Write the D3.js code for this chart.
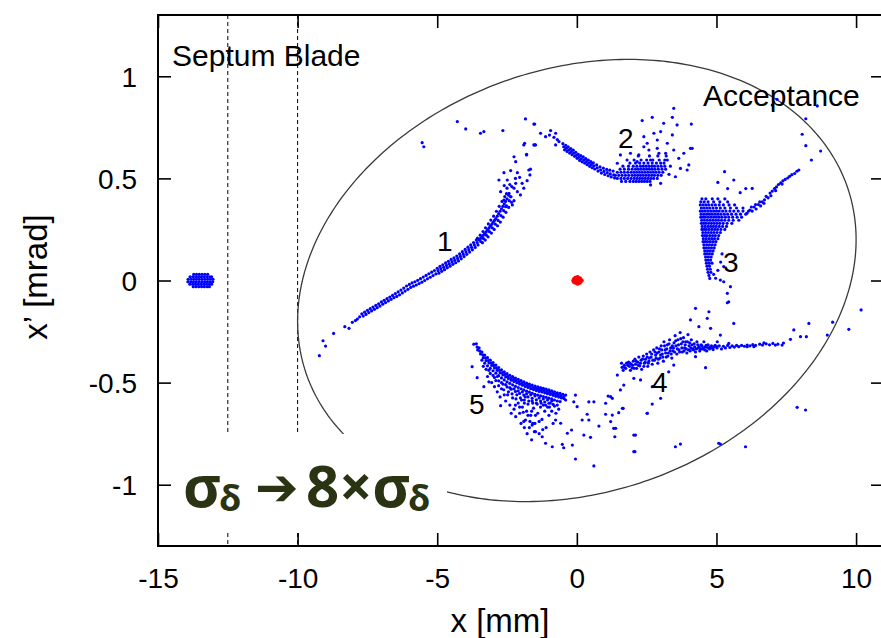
<!DOCTYPE html>
<html>
<head>
<meta charset="utf-8">
<script src="https://cdn.jsdelivr.net/npm/d3@7"></script>
<style>
  body { margin: 0; background: #fff; }
  text { font-family: "Liberation Sans", Arial, Helvetica, sans-serif; }
</style>
</head>
<body>
<svg id="chart" width="881" height="638"></svg>
<script>
// ---- axes ----
const xDomain = [-15, 11];
const yDomain = [-1.3, 1.3];
const xTicks = [-15, -10, -5, 0, 5, 10];
const yTicks = [-1, -0.5, 0, 0.5, 1];
const septumLines = [-12.5, -10];          // septum blade edges, mm

// ---- acceptance ellipse (Twiss form) ----
const acceptanceEmittance = 10.64;          // mm·mrad
const acceptanceBeta = 9.40;
const acceptanceAlpha = -0.188;

// ---- particles: [x mm, x' mrad] ----
const coreBeam = [[-0.12,0.0],[-0.09,0.008],[-0.05,0.012],[-0.05,-0.010],[0.03,0.016],[0.03,0.0],[0.03,-0.015],
  [0.07,0.006],[0.07,-0.008],[0.11,0.010],[0.11,-0.010],[0.17,0.0],[-0.10,-0.006]];

// extracted bunch beyond the septum, rows of [x', [x...]]
const septumBeamRows = [
  [0.030, [-13.72,-13.62,-13.52,-13.42,-13.32,-13.22]],
  [0.018, [-13.85,-13.75,-13.65,-13.55,-13.45,-13.35,-13.25,-13.15,-13.08]],
  [0.006, [-13.92,-13.82,-13.72,-13.62,-13.52,-13.42,-13.32,-13.22,-13.12,-13.03]],
  [-0.006,[-13.93,-13.83,-13.73,-13.63,-13.53,-13.43,-13.33,-13.23,-13.13,-13.04]],
  [-0.018,[-13.86,-13.76,-13.66,-13.56,-13.46,-13.36,-13.26,-13.16,-13.08]],
  [-0.030,[-13.74,-13.64,-13.54,-13.44,-13.34,-13.24,-13.16]]
];

const island1 = [
  [-9.22,-0.368],[-9.09,-0.295],[-9.00,-0.321],[-8.71,-0.259],[-8.31,-0.226],[-8.16,-0.234],[-8.04,-0.205],[-7.93,-0.196],[-7.86,-0.189],[-7.78,-0.178],
  [-7.70,-0.163],[-7.65,-0.174],[-7.60,-0.155],[-7.55,-0.166],[-7.50,-0.146],[-7.45,-0.157],[-7.40,-0.138],[-7.35,-0.149],
  [-7.30,-0.130],[-7.25,-0.141],[-7.20,-0.122],[-7.15,-0.133],[-7.10,-0.114],[-7.05,-0.125],[-7.00,-0.105],[-6.95,-0.116],
  [-6.90,-0.097],[-6.85,-0.108],[-6.80,-0.089],[-6.75,-0.100],[-6.70,-0.081],[-6.65,-0.092],[-6.60,-0.073],[-6.55,-0.084],
  [-6.50,-0.064],[-6.45,-0.078],[-6.40,-0.056],[-6.35,-0.070],[-6.30,-0.047],[-6.25,-0.061],[-6.20,-0.037],[-6.15,-0.052],
  [-6.10,-0.027],[-6.05,-0.043],[-6.00,-0.019],[-5.95,-0.034],[-5.90,-0.012],[-5.85,-0.028],[-5.80,-0.006],[-5.75,-0.022],
  [-5.70,0.001],[-5.65,-0.015],[-5.60,0.009],[-5.55,-0.008],[-5.50,0.017],[-5.45,0.000],[-5.40,0.025],[-5.35,0.008],
  [-5.30,0.033],[-5.25,0.016],[-5.20,0.041],[-5.15,0.024],[-5.10,0.049],[-5.05,0.032],
  [-5.00,0.060],[-4.97,0.048],[-4.94,0.036],[-4.90,0.069],[-4.87,0.057],[-4.84,0.045],[-4.80,0.077],[-4.77,0.065],[-4.74,0.053],
  [-4.70,0.086],[-4.67,0.074],[-4.64,0.062],[-4.60,0.094],[-4.57,0.082],[-4.54,0.070],[-4.50,0.103],[-4.47,0.091],[-4.44,0.079],
  [-4.40,0.111],[-4.37,0.099],[-4.34,0.087],[-4.30,0.120],[-4.27,0.108],[-4.24,0.096],[-4.20,0.130],[-4.17,0.118],[-4.14,0.106],
  [-4.10,0.141],[-4.07,0.129],[-4.04,0.117],[-4.00,0.152],[-3.97,0.140],[-3.94,0.128],[-3.90,0.163],[-3.87,0.151],[-3.84,0.139],
  [-3.80,0.174],[-3.77,0.162],[-3.74,0.150],[-3.70,0.186],[-3.67,0.174],[-3.64,0.162],[-3.60,0.198],[-3.57,0.186],[-3.54,0.174],
  [-3.56,0.207],[-3.50,0.199],[-3.44,0.191],[-3.38,0.185],[-3.46,0.222],[-3.40,0.213],[-3.34,0.205],[-3.28,0.198],
  [-3.36,0.240],[-3.30,0.230],[-3.24,0.222],[-3.18,0.214],[-3.27,0.258],[-3.20,0.247],[-3.13,0.239],[-3.06,0.232],
  [-3.17,0.277],[-3.10,0.266],[-3.03,0.258],[-2.96,0.250],[-3.08,0.296],[-3.00,0.285],[-2.92,0.276],[-2.84,0.268],
  [-2.98,0.315],[-2.90,0.303],[-2.82,0.294],[-2.74,0.286],[-2.88,0.339],[-2.80,0.327],[-2.72,0.318],[-2.64,0.310],
  [-2.78,0.363],[-2.70,0.351],[-2.62,0.342],[-2.54,0.334],[-2.68,0.387],[-2.60,0.375],[-2.52,0.366],[-2.44,0.358],
  [-2.58,0.411],[-2.50,0.400],[-2.42,0.391],[-2.34,0.383],[-2.52,0.425],[-2.44,0.418],[-2.36,0.410],
  [-3.45,0.206],[-3.35,0.222],[-3.25,0.238],[-3.15,0.256],[-3.05,0.275],[-2.95,0.294],[-2.85,0.315],[-2.75,0.339],[-2.65,0.363],[-2.55,0.387],
  [-2.25,0.606],[-1.80,0.615],[-1.90,0.664],[-1.54,0.664],[-2.61,0.528],[-2.37,0.538],[-2.13,0.528],[-1.66,0.545],[-1.68,0.517],
  [-2.79,0.492],[-2.49,0.492],[-2.19,0.476],[-1.96,0.476],[-1.78,0.489],[-1.90,0.452],[-2.02,0.419],[-2.73,0.435],[-2.43,0.427],
  [-2.25,0.452],[-2.61,0.394],[-2.37,0.410],[-2.25,0.391],[-2.55,0.361],[-2.31,0.370],[-2.13,0.435],[-2.19,0.582],[-1.72,0.541],
  [-2.33,0.460],[-2.50,0.452],[-2.40,0.470],[-2.60,0.465],[-2.20,0.500],[-2.05,0.505],
  [-5.54,0.675],[-5.48,0.655],[-4.28,0.778],[-3.98,0.742],[-3.45,0.721],[-3.33,0.729],[-2.65,0.734],[-1.84,0.791],[-1.54,0.766],[-1.87,0.672],[-1.48,0.664]
];

const island2 = [
  [-1.30,0.721],[-0.94,0.734],[-1.12,0.704],[-0.76,0.721],[-0.82,0.701],[-0.64,0.680],[-0.76,0.664],[-1.51,0.664],[-1.80,0.618],[-1.51,0.766],[-0.98,0.712],[-0.70,0.690],
  [-0.50,0.670],[-0.47,0.655],[-0.44,0.640],[-0.40,0.662],[-0.38,0.647],[-0.35,0.632],[-0.31,0.654],[-0.29,0.639],[-0.26,0.624],
  [-0.22,0.646],[-0.20,0.631],[-0.17,0.616],[-0.13,0.638],[-0.11,0.623],[-0.08,0.608],[-0.04,0.628],[-0.02,0.613],[0.01,0.598],
  [0.05,0.618],[0.07,0.603],[0.10,0.588],[0.14,0.611],[0.16,0.596],[0.19,0.581],[0.23,0.605],[0.25,0.590],[0.28,0.575],
  [0.32,0.597],[0.34,0.582],[0.37,0.567],[0.41,0.589],[0.43,0.574],[0.46,0.559],[0.50,0.582],[0.52,0.567],[0.55,0.552],
  [0.59,0.576],[0.61,0.561],[0.64,0.546],[0.71,0.566],[0.73,0.551],[0.76,0.536],[0.83,0.556],[0.85,0.541],[0.88,0.526],
  [0.95,0.550],[0.97,0.534],[1.00,0.519],[1.07,0.544],[1.09,0.528],[1.12,0.513],[1.18,0.540],[1.20,0.522],[1.23,0.507],
  [1.30,0.536],[1.32,0.517],[1.35,0.502],
  [1.56,0.615],[1.92,0.623],[2.22,0.615],[2.40,0.704],[2.52,0.672],[2.34,0.783],[2.70,0.799],[2.76,0.721],[2.88,0.688],
  [3.00,0.729],[3.11,0.770],[3.42,0.799],[3.47,0.843],[3.59,0.762],[3.42,0.713],[3.24,0.672],[3.47,0.639],[3.83,0.623],
  [4.07,0.647],[3.65,0.598],[3.71,0.549],[3.95,0.541],[3.53,0.508],[3.00,0.476],[2.64,0.468],[3.24,0.590],[2.94,0.623],
  [2.58,0.639],[2.88,0.647],[3.18,0.623],[2.40,0.655],[2.16,0.582],[1.45,0.574],[1.80,0.590],[2.64,0.590],[3.35,0.560],[3.30,0.520]
];

// dense part of island 2, rows of [x', [x...]]
const island2CoreRows = [
  [0.485, [1.60,1.75,1.90,2.02,2.12,2.22,2.32,2.42,2.52,2.62]],
  [0.500, [1.45,1.58,1.70,1.82,1.94,2.05,2.15,2.25,2.35,2.45,2.55,2.65,2.75,2.88]],
  [0.515, [1.38,1.50,1.62,1.74,1.86,1.98,2.08,2.18,2.28,2.38,2.48,2.58,2.68,2.78,2.90,3.02]],
  [0.530, [1.45,1.58,1.70,1.82,1.94,2.04,2.14,2.24,2.34,2.44,2.54,2.64,2.74,2.84,2.95,3.08]],
  [0.545, [1.55,1.70,1.85,1.98,2.10,2.20,2.30,2.40,2.50,2.60,2.70,2.80,2.92,3.05,3.18]],
  [0.560, [1.65,1.85,2.02,2.15,2.28,2.38,2.48,2.58,2.68,2.78,2.90,3.02,3.15]],
  [0.575, [1.90,2.10,2.25,2.40,2.55,2.70,2.85,3.00,3.12]],
  [0.590, [2.05,2.30,2.50,2.72,2.95,3.15]],
  [0.610, [2.20,2.60,2.90,3.20]]
];

const island3Rows = [
  [0.400, [4.48,4.62,4.85,5.05,5.30]],
  [0.385, [4.44,4.56,4.70,4.90,5.12,5.40]],
  [0.370, [4.42,4.52,4.62,4.72,4.84,4.96,5.10,5.25,5.45,5.65]],
  [0.355, [4.46,4.56,4.66,4.76,4.88,5.00,5.14,5.30,5.50,5.72,5.95]],
  [0.340, [4.42,4.50,4.60,4.70,4.80,4.90,5.00,5.10,5.22,5.34,5.48,5.62,5.78,5.95,6.15]],
  [0.325, [4.45,4.55,4.65,4.75,4.85,4.95,5.05,5.16,5.28,5.40,5.54,5.70,5.86,6.05]],
  [0.310, [4.44,4.52,4.60,4.70,4.80,4.90,5.00,5.10,5.20,5.32,5.44,5.58,5.74,5.90]],
  [0.295, [4.47,4.57,4.67,4.77,4.87,4.97,5.07,5.18,5.30,5.44,5.60,5.80]],
  [0.280, [4.46,4.54,4.62,4.72,4.82,4.92,5.02,5.12,5.24,5.38,5.55]],
  [0.265, [4.49,4.59,4.69,4.79,4.89,4.99,5.10,5.22,5.36]],
  [0.250, [4.48,4.56,4.64,4.74,4.84,4.94,5.04,5.16,5.30]],
  [0.235, [4.51,4.61,4.71,4.81,4.91,5.02,5.14]],
  [0.220, [4.50,4.58,4.66,4.76,4.86,4.96,5.08]],
  [0.205, [4.53,4.63,4.73,4.83,4.93,5.05]],
  [0.190, [4.52,4.60,4.68,4.78,4.88,4.98]],
  [0.175, [4.55,4.65,4.75,4.85,4.95]],
  [0.160, [4.55,4.63,4.72,4.82,4.92]],
  [0.145, [4.58,4.68,4.78,4.88]],
  [0.130, [4.58,4.66,4.75,4.85]],
  [0.115, [4.61,4.71,4.81]],
  [0.100, [4.62,4.70,4.79]],
  [0.085, [4.64,4.74,4.84]],
  [0.070, [4.66,4.75]],
  [0.055, [4.68,4.78]],
  [0.040, [4.70,4.80]],
  [0.025, [4.73]],
  [0.010, [4.76]]
];

const island3 = [
  [6.10,0.330],[6.20,0.345],[6.28,0.340],[6.35,0.360],[6.42,0.350],[6.50,0.372],[6.58,0.365],[6.64,0.385],[6.72,0.395],
  [6.78,0.412],[6.85,0.405],[6.92,0.428],[7.00,0.438],[7.08,0.450],[7.15,0.458],[7.22,0.470],[7.30,0.478],[7.38,0.488],
  [7.46,0.495],[7.55,0.502],[7.62,0.510],[7.70,0.518],[7.80,0.524],[7.88,0.535],[7.95,0.541],[6.55,0.385],[6.70,0.378],
  [6.95,0.415],[7.12,0.440],[7.35,0.472],[6.40,0.372],[6.25,0.360],
  [5.29,0.533],[5.62,0.492],[7.17,0.887],[7.00,0.859],[8.61,0.855],[8.20,0.792],[8.07,0.716],[8.20,0.660],[8.73,0.634],
  [8.40,0.590],[4.10,0.766],[4.13,0.647],[4.01,0.566],[6.28,0.451],[5.40,0.450],[5.85,0.430],[6.05,0.450],[5.05,0.480],
  [4.97,0.011],[5.14,0.002],[5.26,-0.006],[5.50,-0.030],[5.39,-0.063],[5.44,-0.104],[5.26,0.068],[5.05,0.050],[5.15,0.090],
  [5.20,0.130],[4.90,0.030]
];

const island4 = [
  [1.60,-0.405],[1.62,-0.425],[1.66,-0.440],[1.70,-0.415],[1.75,-0.430],[1.78,-0.405],
  [1.85,-0.400],[1.88,-0.420],[1.92,-0.440],[1.95,-0.410],[1.98,-0.428],[2.02,-0.395],
  [2.08,-0.385],[2.10,-0.410],[2.14,-0.430],[2.18,-0.400],[2.22,-0.375],[2.25,-0.418],[2.30,-0.390],[2.32,-0.435],
  [2.38,-0.370],[2.42,-0.405],[2.46,-0.385],[2.50,-0.360],[2.54,-0.420],[2.58,-0.395],[2.62,-0.350],[2.66,-0.375],[2.70,-0.410],
  [2.75,-0.340],[2.78,-0.390],[2.82,-0.365],[2.86,-0.330],[2.90,-0.405],[2.94,-0.350],[2.98,-0.380],[3.02,-0.320],[3.06,-0.360],[3.10,-0.395],
  [3.12,-0.300],[3.16,-0.340],[3.20,-0.375],[3.24,-0.315],[3.28,-0.355],[3.32,-0.290],[3.36,-0.330],[3.40,-0.380],[3.44,-0.345],[3.48,-0.305],
  [3.52,-0.270],[3.55,-0.320],[3.58,-0.360],[3.62,-0.290],[3.66,-0.340],[3.70,-0.255],[3.74,-0.310],[3.78,-0.350],[3.82,-0.280],[3.86,-0.330],
  [3.90,-0.300],[3.94,-0.355],[3.98,-0.265],[4.02,-0.320],[4.06,-0.345],[4.10,-0.290],[4.15,-0.335],[4.20,-0.310],[4.25,-0.350],
  [4.30,-0.300],[4.35,-0.330],[4.40,-0.345],[4.45,-0.315],[4.50,-0.335],[4.55,-0.300],[4.60,-0.325],[4.65,-0.345],
  [4.70,-0.315],[4.75,-0.335],[4.82,-0.320],[4.88,-0.338],[4.95,-0.318],[5.02,-0.330],[5.10,-0.320],[5.18,-0.335],
  [5.25,-0.322],[5.32,-0.330],[5.40,-0.318],[5.48,-0.328],[5.56,-0.320],[5.64,-0.326],[5.72,-0.318],[5.80,-0.324],
  [5.90,-0.318],[6.00,-0.322],[6.10,-0.316],[6.20,-0.320],[6.30,-0.314],[6.40,-0.318],[6.55,-0.312],[6.65,-0.316],
  [6.78,-0.310],[6.90,-0.315],[7.02,-0.308],[7.20,-0.312],[7.40,-0.306],
  [1.70,-0.425],[1.82,-0.415],[1.90,-0.405],[2.00,-0.415],[2.05,-0.430],[2.12,-0.395],[2.20,-0.415],[2.28,-0.405],
  [2.35,-0.385],[2.40,-0.420],[2.45,-0.400],[2.52,-0.375],[2.56,-0.405],[2.60,-0.380],[2.68,-0.360],[2.72,-0.390],
  [2.80,-0.350],[2.84,-0.380],[2.88,-0.355],[2.92,-0.385],[2.96,-0.335],[3.00,-0.365],[3.04,-0.340],[3.08,-0.375],
  [3.14,-0.320],[3.18,-0.355],[3.22,-0.335],[3.26,-0.370],[3.30,-0.310],[3.34,-0.345],[3.38,-0.360],[3.42,-0.320],
  [3.46,-0.330],[3.50,-0.350],[3.54,-0.295],[3.60,-0.335],[3.64,-0.315],[3.68,-0.350],[3.72,-0.285],[3.76,-0.330],
  [3.80,-0.300],[3.84,-0.345],[3.88,-0.315],[3.92,-0.335],[3.96,-0.300],[4.00,-0.340],[4.04,-0.305],[4.08,-0.330],
  [4.12,-0.315],[4.18,-0.340],[4.22,-0.325],[4.28,-0.335],[4.33,-0.315],[4.38,-0.325],[4.43,-0.335],[4.48,-0.320],
  [4.53,-0.330],[4.58,-0.340],[4.63,-0.318],[4.68,-0.328],[4.78,-0.325],[4.85,-0.330],[4.92,-0.325],[5.00,-0.322],
  [1.45,-0.463],[1.68,-0.512],[1.56,-0.536],[2.04,-0.479],[2.28,-0.487],[2.70,-0.520],[3.00,-0.577],[3.29,-0.447],
  [3.47,-0.414],[4.61,-0.427],[4.25,-0.373],[2.70,-0.605],[2.52,-0.650],
  [4.25,-0.136],[4.07,-0.193],[4.73,-0.153],[4.67,-0.185],[4.37,-0.226],[4.79,-0.234],[5.39,-0.109],[5.62,-0.210],
  [5.14,-0.267],[5.03,-0.300],[5.44,-0.308],
  [7.77,-0.242],[8.01,-0.275],[8.22,-0.275],[8.31,-0.210],[7.65,-0.288],[7.11,-0.316],[7.35,-0.316],[6.70,-0.305],
  [6.34,-0.324],[6.10,-0.324],[8.97,-0.267],[9.74,-0.239],[10.18,-0.144],[7.89,-0.621],[8.19,-0.634],[9.16,-0.204],
  [2.04,-0.757],[2.04,-0.838],[3.53,-0.814],[3.71,-0.801],[5.08,-0.797],[5.14,-0.801],[6.04,-0.814],
  [1.66,-0.626],[1.32,-0.724],[1.21,-0.691],[1.03,-0.601],[1.21,-0.569]
];

const island5 = [
  [-3.6,-0.310],[-3.5,-0.330],[-3.4,-0.350],[-3.3,-0.365],[-3.2,-0.378],[-3.1,-0.390],[-3.0,-0.402],[-2.9,-0.414],[-2.8,-0.426],
  [-2.7,-0.437],[-2.6,-0.447],[-2.5,-0.456],[-2.4,-0.464],[-2.3,-0.471],[-2.2,-0.478],[-2.1,-0.484],[-2.0,-0.490],[-1.9,-0.496],
  [-1.8,-0.502],[-1.7,-0.507],[-1.6,-0.512],[-1.5,-0.517],[-1.4,-0.521],[-1.3,-0.525],[-1.2,-0.528],[-1.1,-0.532],[-1.0,-0.536],
  [-0.9,-0.540],[-0.8,-0.545],[-0.7,-0.550],[-0.6,-0.553],[-0.5,-0.557],[-0.4,-0.561],
  [-3.57,-0.326],[-3.47,-0.346],[-3.37,-0.364],[-3.27,-0.379],[-3.17,-0.392],[-3.07,-0.404],[-2.97,-0.416],[-2.87,-0.428],
  [-2.77,-0.440],[-2.67,-0.451],[-2.57,-0.460],[-2.47,-0.469],[-2.37,-0.477],[-2.27,-0.484],[-2.17,-0.490],[-2.07,-0.496],
  [-1.97,-0.502],[-1.87,-0.508],[-1.77,-0.514],[-1.67,-0.519],[-1.57,-0.524],[-1.47,-0.528],[-1.37,-0.532],[-1.27,-0.536],
  [-1.17,-0.539],[-1.07,-0.543],[-0.97,-0.547],[-0.87,-0.552],[-0.77,-0.557],[-0.67,-0.561],[-0.57,-0.565],[-0.47,-0.569],
  [-3.55,-0.340],[-3.45,-0.360],[-3.35,-0.378],[-3.25,-0.392],[-3.15,-0.404],[-3.05,-0.416],[-2.95,-0.428],[-2.85,-0.440],
  [-2.75,-0.452],[-2.65,-0.462],[-2.55,-0.472],[-2.45,-0.480],[-2.35,-0.488],[-2.25,-0.494],[-2.15,-0.501],[-2.05,-0.507],
  [-1.95,-0.513],[-1.85,-0.519],[-1.75,-0.524],[-1.65,-0.530],[-1.55,-0.534],[-1.45,-0.539],[-1.35,-0.543],[-1.25,-0.546],
  [-1.15,-0.550],[-1.05,-0.554],[-0.95,-0.558],[-0.85,-0.562],[-0.75,-0.567],[-0.65,-0.571],[-0.55,-0.575],[-0.45,-0.579],
  [-3.4,-0.390],[-3.3,-0.405],[-3.2,-0.418],[-3.1,-0.430],[-3.0,-0.442],[-2.9,-0.454],[-2.8,-0.466],[-2.7,-0.477],[-2.6,-0.487],
  [-2.5,-0.496],[-2.4,-0.504],[-2.3,-0.511],[-2.2,-0.518],[-2.1,-0.524],[-2.0,-0.530],[-1.9,-0.536],[-1.8,-0.542],[-1.7,-0.547],
  [-1.6,-0.552],[-1.5,-0.557],[-1.4,-0.561],[-1.3,-0.565],[-1.2,-0.568],[-1.1,-0.572],[-1.0,-0.576],[-0.9,-0.580],[-0.8,-0.585],
  [-0.7,-0.590],[-0.6,-0.593],
  [-3.25,-0.435],[-3.10,-0.455],[-2.95,-0.475],[-2.80,-0.491],[-2.65,-0.507],[-2.50,-0.521],[-2.35,-0.532],[-2.20,-0.543],
  [-2.05,-0.553],[-1.90,-0.561],[-1.75,-0.570],[-1.60,-0.577],[-1.45,-0.584],[-1.30,-0.590],[-1.15,-0.595],[-1.00,-0.601],[-0.85,-0.607],
  [-3.35,-0.420],[-3.15,-0.440],[-3.00,-0.465],[-2.85,-0.470],[-2.70,-0.500],[-2.55,-0.510],[-2.40,-0.525],[-2.25,-0.530],
  [-2.10,-0.540],[-1.95,-0.545],[-1.80,-0.555],[-1.65,-0.560],[-1.50,-0.565],[-1.35,-0.575],[-1.20,-0.580],[-1.05,-0.585],
  [-0.90,-0.590],[-2.80,-0.515],[-2.62,-0.535],[-2.48,-0.560],[-2.32,-0.555],[-2.18,-0.580],[-2.02,-0.575],[-1.88,-0.585],
  [-1.72,-0.590],[-1.58,-0.600],[-1.42,-0.605],[-1.28,-0.600],[-1.12,-0.610],[-0.98,-0.620],[-2.20,-0.610],[-2.05,-0.620],
  [-1.92,-0.645],[-1.75,-0.660],[-1.62,-0.640],[-1.48,-0.660],[-1.35,-0.690],[-1.68,-0.690],[-1.52,-0.740],[-1.88,-0.720],
  [-3.20,-0.470],[-3.05,-0.500],[-2.95,-0.520],[-2.85,-0.545],[-2.70,-0.530],[-2.60,-0.560],[-2.55,-0.590],[-2.45,-0.545],
  [-2.40,-0.610],[-2.30,-0.575],[-2.25,-0.630],[-2.15,-0.560],[-2.10,-0.600],[-2.05,-0.650],[-1.98,-0.585],[-1.95,-0.620],
  [-1.90,-0.690],[-1.85,-0.570],[-1.80,-0.640],[-1.75,-0.605],[-1.70,-0.720],[-1.65,-0.660],[-1.60,-0.590],[-1.55,-0.625],
  [-1.50,-0.700],[-1.45,-0.600],[-1.40,-0.650],[-1.35,-0.750],[-1.30,-0.620],[-1.25,-0.680],[-1.20,-0.610],[-1.15,-0.640],
  [-1.10,-0.720],[-1.05,-0.620],[-1.00,-0.660],[-0.95,-0.600],[-0.90,-0.640],[-0.85,-0.700],[-0.80,-0.615],[-0.75,-0.650],
  [-0.70,-0.610],[-0.65,-0.630],[-2.90,-0.490],[-2.75,-0.570],[-2.35,-0.650],[-2.00,-0.700],[-1.78,-0.750],[-1.62,-0.780],
  [-1.88,-0.600],[-1.58,-0.700],[-1.22,-0.730],
  [-3.69,-0.312],[-3.75,-0.422],[-3.57,-0.476],[-3.33,-0.520],[-3.15,-0.496],[-2.73,-0.613],[-2.19,-0.667],[-1.84,-0.683],
  [-1.60,-0.708],[-1.48,-0.740],[-1.24,-0.765],[-1.12,-0.797],[-0.88,-0.814],[-0.52,-0.802],[-0.47,-0.819],[-0.16,-0.806],
  [-0.05,-0.874],[0.61,-0.908],[-0.34,-0.748],[-0.19,-0.732],[-0.76,-0.683],[-0.58,-0.699],[0.01,-0.618],[0.25,-0.757],
  [0.49,-0.768],[0.19,-0.683],[0.43,-0.683],[0.37,-0.655],[0.43,-0.594],[0.61,-0.594],[0.79,-0.713],[1.03,-0.655],
  [1.12,-0.566],[1.27,-0.577],[1.27,-0.659],[1.36,-0.765],[1.39,-0.724],[1.50,-0.647],[1.63,-0.626],[2.10,-0.757],
  [2.08,-0.838],[2.52,-0.650],[-0.05,-0.561],[-0.40,-0.585],[-0.11,-0.594]
];

// ---- layout ----
const W = 881, H = 638;
const svg = d3.select("#chart");

const x = d3.scaleLinear().domain(xDomain).range([158, 884]);
const y = d3.scaleLinear().domain(yDomain).range([546, 15]);

function styleAxis(g) {
  g.attr("font-family", null).attr("font-size", null);
  g.select(".domain").remove();
  g.selectAll(".tick line").attr("stroke", "#000").attr("stroke-width", 1.6);
}

// bottom axis with labels
const gx = svg.append("g").attr("transform", "translate(0,546)")
  .call(d3.axisBottom(x).tickValues(xTicks).tickSize(-13).tickFormat(d => String(d)));
styleAxis(gx);
gx.selectAll(".tick text").attr("y", 42).attr("dy", 0).attr("font-size", 28).attr("fill", "#000");

// left axis with labels
const gy = svg.append("g").attr("transform", "translate(158,0)")
  .call(d3.axisLeft(y).tickValues(yTicks).tickSize(-13).tickFormat(d => String(d)));
styleAxis(gy);
gy.selectAll(".tick text").attr("x", -21).attr("y", 10).attr("dy", 0).attr("font-size", 28).attr("fill", "#000");

// mirrored ticks on top and right
const gxt = svg.append("g").attr("transform", "translate(0,15)")
  .call(d3.axisTop(x).tickValues(xTicks).tickSize(-13).tickFormat(""));
styleAxis(gxt);
const gyr = svg.append("g").attr("transform", "translate(884,0)")
  .call(d3.axisRight(y).tickValues(yTicks).tickSize(-13).tickFormat(""));
styleAxis(gyr);

// frame
svg.append("rect")
  .attr("x", x(xDomain[0])).attr("y", y(yDomain[1]))
  .attr("width", x(xDomain[1]) - x(xDomain[0])).attr("height", y(yDomain[0]) - y(yDomain[1]))
  .attr("fill", "none").attr("stroke", "#000").attr("stroke-width", 2);

// septum blade edges
svg.append("g").selectAll("line").data(septumLines).join("line")
  .attr("x1", d => x(d)).attr("x2", d => x(d))
  .attr("y1", y(yDomain[1])).attr("y2", y(yDomain[0]))
  .attr("stroke", "#000").attr("stroke-width", 1).attr("stroke-dasharray", "4,3");

// acceptance ellipse from Twiss parameters
const aW = Math.sqrt(acceptanceEmittance * acceptanceBeta);
const aP = Math.sqrt(acceptanceEmittance / acceptanceBeta);
const ellipse = d3.range(0, 361).map(deg => {
  const t = deg * Math.PI / 180;
  return [aW * Math.cos(t), -aP * (acceptanceAlpha * Math.cos(t) + Math.sin(t))];
});
svg.append("path")
  .attr("d", d3.line().x(d => x(d[0])).y(d => y(d[1]))(ellipse))
  .attr("fill", "none").attr("stroke", "#3a3a3a").attr("stroke-width", 1.3);

// particles
const rowsToPoints = rows => rows.flatMap(([xp, xs]) => xs.map(xv => [xv, xp]));
const blueParticles = [].concat(
  rowsToPoints(septumBeamRows), island1, island2, rowsToPoints(island2CoreRows),
  rowsToPoints(island3Rows), island3, island4, island5
);
svg.append("g").selectAll("circle").data(blueParticles).join("circle")
  .attr("cx", d => x(d[0])).attr("cy", d => y(d[1])).attr("r", 1.6).attr("fill", "#0000ff");
svg.append("g").selectAll("circle").data(coreBeam).join("circle")
  .attr("cx", d => x(d[0])).attr("cy", d => y(d[1])).attr("r", 2.2).attr("fill", "#ff0000");

// annotations
const label = (t, px, py, size, anchor) => svg.append("text")
  .attr("x", px).attr("y", py).attr("font-size", size).attr("text-anchor", anchor || "start").attr("fill", "#000").text(t);
label("Septum Blade", 172, 66, 30);
label("Acceptance", 703, 106, 30);
label("1", 437, 251, 28);
label("2", 618, 148, 28);
label("3", 723, 272, 28);
label("4", 652, 392, 28);
label("5", 469, 414, 28);

// energy-spread label on a white plate
svg.append("rect").attr("x", 175).attr("y", 434).attr("width", 272).attr("height", 97).attr("fill", "#fff");
const sig = svg.append("text").attr("font-weight", "bold").attr("fill", "#2a3413")
  .style("font-family", "'Open Sans', 'DejaVu Sans', sans-serif");
sig.append("tspan").attr("x", 183).attr("y", 507).attr("font-size", 58).text("σ");
sig.append("tspan").attr("x", 219).attr("y", 511).attr("font-size", 36).text("δ");
sig.append("tspan").attr("x", 255).attr("y", 505).attr("font-size", 52)
  .style("font-family", "'DejaVu Sans', sans-serif").text("➔");
sig.append("tspan").attr("x", 306).attr("y", 507).attr("font-size", 58).text("8×σ");
sig.append("tspan").attr("x", 408).attr("y", 511).attr("font-size", 36).text("δ");

// axis titles
svg.append("text").attr("x", 500).attr("y", 632).attr("text-anchor", "middle").attr("font-size", 33).text("x [mm]");
svg.append("text").attr("transform", "translate(47,277) rotate(-90)").attr("text-anchor", "middle").attr("font-size", 33).text("x’ [mrad]");
</script>
</body>
</html>
